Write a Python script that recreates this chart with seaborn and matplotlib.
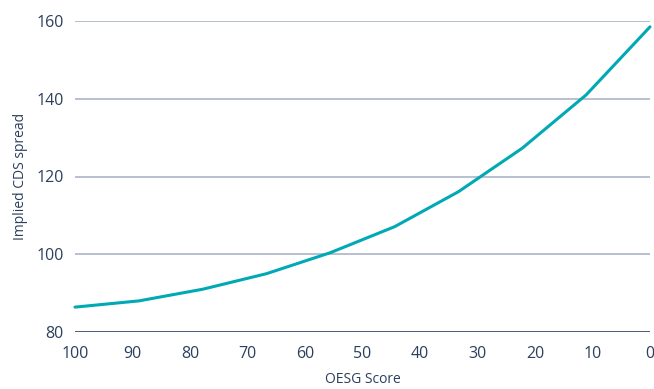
import matplotlib
matplotlib.use("Agg")
import matplotlib.pyplot as plt
import seaborn as sns
import pandas as pd

# OESG score buckets (100 down to 0) and the implied CDS spread at each
oesg_score = [100, 88.9, 77.8, 66.7, 55.6, 44.4, 33.3, 22.2, 11.1, 0]
cds_spread = [86.4, 88.0, 91.0, 95.0, 100.4, 107.1, 116.1, 127.3, 141.0, 158.5]
x_ticks = [100, 90, 80, 70, 60, 50, 40, 30, 20, 10, 0]
y_ticks = [80, 100, 120, 140, 160]

sns.set_style("white")
plt.rcParams["font.family"] = ["Open Sans", "DejaVu Sans"]

text_col = "#2b3f5c"
line_col = "#00a9b4"
grid_col = "#a9b5c9"

df = pd.DataFrame({"OESG Score": oesg_score, "Implied CDS spread": cds_spread})

fig = plt.figure(figsize=(6.54, 3.89), dpi=100)
ax = fig.add_axes([75 / 654, 1 - 332 / 389, 575 / 654, 311 / 389])

for y in y_ticks[1:]:
    ax.axhline(y, color=grid_col, lw=1.2, zorder=1)
ax.axhline(80, color="#4b5b72", lw=1.4, zorder=1)

sns.lineplot(data=df, x="OESG Score", y="Implied CDS spread", ax=ax,
             color=line_col, lw=2.2, zorder=3, clip_on=False)

ax.set_xlim(100, 0)
ax.set_ylim(80, 160)
ax.set_xticks(x_ticks)
ax.set_yticks(y_ticks)
ax.tick_params(axis="both", length=0, labelsize=11.5, labelcolor=text_col)
ax.tick_params(axis="x", pad=10)
ax.tick_params(axis="y", pad=8)
for s in ax.spines.values():
    s.set_visible(False)

ax.set_xlabel("OESG Score", fontsize=10, color=text_col, labelpad=7)
ax.set_ylabel("Implied CDS spread", fontsize=10, color=text_col, labelpad=6)

fig.savefig("out.png", dpi=100)
